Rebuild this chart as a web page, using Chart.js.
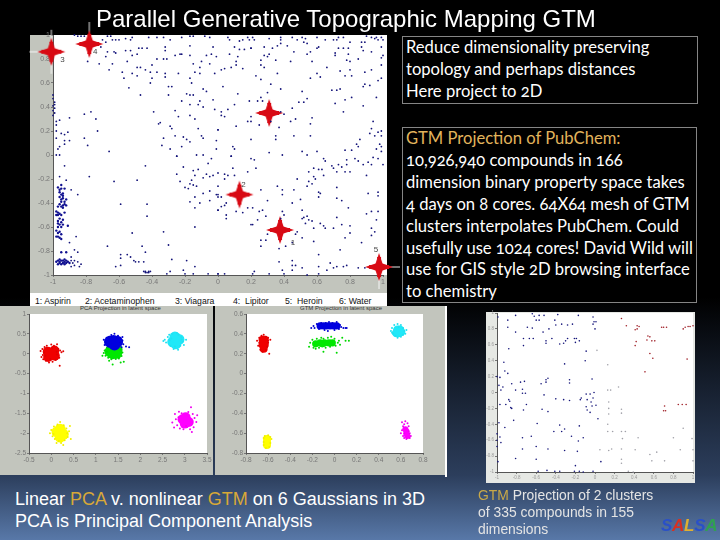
<!DOCTYPE html>
<html>
<head>
<meta charset="utf-8">
<title>Parallel Generative Topographic Mapping GTM</title>
<script src="https://cdn.jsdelivr.net/npm/chart.js@4/dist/chart.umd.min.js"></script>
<style>
  html, body { margin: 0; padding: 0; width: 720px; height: 540px; overflow: hidden; }
  body { position: relative; font-family: "Liberation Sans", Arial, sans-serif; color: #fff;
    background: linear-gradient(to bottom, #000 0%, #000 55%, #2c3e5c 88%, #5878a8 100%); }
  .abs { position: absolute; }
  canvas { position: absolute; filter: blur(0.4px); }
  .gold { color: #d8a838; }
  #title { left: 96px; top: 6px; font-size: 24px; line-height: 26px; white-space: nowrap; z-index: 5; }
  .panel { background: #c2c5bd; }
  .box { border: 1px solid #858585; background: #000; box-sizing: border-box; padding-left: 3px;
    font-family: Lato, sans-serif; font-size: 16.6px; line-height: 21.9px; white-space: pre;
    font-feature-settings: "onum"; }
  .box .gold { color: #e2b45c; }
  .strip { background: #fff; color: #111; font-size: 8.7px; z-index: 4; }
  .strip span { position: absolute; top: 3px; white-space: pre; }
  .tiny { font-size: 6px; color: #333; white-space: nowrap; }
  #caption { left: 15px; top: 488px; font-size: 18px; line-height: 22px; white-space: pre; }
  #caption2 { left: 478px; top: 487px; font-size: 13.9px; line-height: 17px; color: #e4e4e4; white-space: pre; }
  #caption2 .gold { color: #c8a848; }
  #salsa { left: 661px; top: 516px; font-size: 17px; font-weight: bold; font-style: italic; letter-spacing: -0.3px; filter: blur(0.5px); }
</style>
</head>
<body>
<div id="title" class="abs">Parallel Generative Topographic Mapping GTM</div>

<div class="abs panel" style="left:30px;top:35px;width:357px;height:258px"></div>
<div class="abs" style="left:383px;top:35px;width:4px;height:240px;background:#fff"></div>
<div class="abs panel" style="left:0;top:306px;width:213px;height:169px"></div>
<div class="abs panel" style="left:215px;top:306px;width:230px;height:169px"></div>
<div class="abs" style="left:445px;top:306px;width:2px;height:171px;background:#fff"></div>
<div class="abs tiny" style="left:80px;top:305px">PCA Projection in latent space</div>
<div class="abs tiny" style="left:300px;top:305px">GTM Projection in latent space</div>
<div class="abs" style="left:486px;top:312px;width:209px;height:171px;background:#e6e8e4"></div>

<canvas id="mainChart" width="400" height="280" style="left:0;top:20px;z-index:3"></canvas>
<canvas id="pcaChart" width="220" height="170" style="left:0;top:300px"></canvas>
<canvas id="gtmChart" width="220" height="170" style="left:216px;top:300px"></canvas>
<canvas id="smallChart" width="214" height="178" style="left:484px;top:308px"></canvas>

<div class="abs strip" style="left:30px;top:293px;width:357px;height:13px">
  <span style="left:5px">1: Aspirin</span>
  <span style="left:55px">2: Acetaminophen</span>
  <span style="left:145px">3: Viagara</span>
  <span style="left:203px">4:  Lipitor</span>
  <span style="left:255px">5:  Heroin</span>
  <span style="left:309px">6: Water</span>
</div>

<div class="abs box" style="left:402px;top:36px;width:296px;height:68px">Reduce dimensionality preserving
topology and perhaps distances
Here project to 2D</div>
<div class="abs box" style="left:402px;top:127px;width:295px;height:176px"><span class="gold">GTM Projection of PubChem:</span>
10,926,940 compounds in 166
dimension binary property space takes
4 days on 8 cores. 64X64 mesh of GTM
clusters interpolates PubChem. Could
usefully use 1024 cores! David Wild will
use for GIS style 2D browsing interface
to chemistry</div>

<div id="caption" class="abs">Linear <span class="gold">PCA</span> v. nonlinear <span class="gold">GTM</span> on 6 Gaussians in 3D
PCA is Principal Component Analysis</div>
<div id="caption2" class="abs"><span class="gold">GTM</span> Projection of 2 clusters
of 335 compounds in 155
dimensions</div>
<div id="salsa" class="abs"><span style="color:#2a50c8">S</span><span style="color:#d83020">A</span><span style="color:#e0b030">L</span><span style="color:#2a50c8">S</span><span style="color:#30a050">A</span></div>

<script>
// tick labels
const ticksUnit = [-1, -0.8, -0.6, -0.4, -0.2, 0, 0.2, 0.4, 0.6, 0.8, 1];
const pcaTicksX = [-0.5, 0, 0.5, 1, 1.5, 2, 2.5, 3, 3.5];
const pcaTicksY = [-2.5, -2, -1.5, -1, -0.5, 0, 0.5, 1];
const gtmTicksX = [-0.8, -0.6, -0.4, -0.2, 0, 0.2, 0.4, 0.6, 0.8];
const gtmTicksY = [-0.8, -0.6, -0.4, -0.2, 0, 0.2, 0.4, 0.6];

const pubchemNW = [[-.87,1],[-.85,.99],[-.83,.99],[-.81,.99],[-.67,.99],[-.65,.99],[-.7,.96],[-.68,.94],[-.64,.96],[-.62,.96],[-.6,.96],[-.56,.97],[-.52,.98],[-.53,.96],[-.42,.98],[-.37,.98],[-.33,.98],[-.29,.96],[-.22,.98],[-.17,.99],[-.15,.99],[-.08,.99],[-.05,.98],[-.03,.9],[-.71,.9],[-.67,.86],[-.63,.86],[-.62,.85],[-.56,.87],[-.53,.87],[-.48,.89],[-.46,.89],[-.43,.89],[-.32,.9],[-.32,.87],[-.17,.91],[-.52,.83],[-.49,.84],[-.68,.82],[-.79,.78],[-.72,.76],[-.64,.76],[-.55,.78],[-.37,.8],[-.33,.8],[-.31,.8],[-.26,.83],[-.23,.84],[-.22,.84],[-.17,.83],[-.07,.83],[-.04,.84],[-.01,.82],[-.05,.76],[-.15,.76],[-.1,.78],[-.11,.73],[-.14,.69],[-.11,.68],[-.02,.68],[-.66,.71],[-.58,.69],[-.57,.64],[-.52,.68],[-.49,.66],[-.49,.73],[-.47,.73],[-.44,.71],[-.4,.75],[-.41,.69],[-.37,.69],[-.32,.68],[-.32,.65],[-.24,.68],[-.17,.64],[-.16,.6],[-.4,.64],[-.41,.6],[-.54,.56],[-.47,.5],[-.3,.57],[-.28,.57],[-.3,.5],[-.19,.51],[-.17,.5],[-.09,.55],[-.07,.53],[-.15,.5],[-.03,.46],[-.22,.45],[-.17,.42],[-.11,.45],[-.12,.42],[-.09,.4],[-.02,.38],[-.39,.36],[-.26,.37],[-.24,.32],[-.17,.33],[-.14,.3],[-.35,.27],[-.36,.26],[-.29,.24],[-.28,.22],[-.26,.16],[-.33,.14],[-.21,.15],[-.19,.13],[-.17,.11],[-.1,.16],[-.09,.14],[-.01,.12],[0,.21],[-.12,.22],[-.34,.08],[-.29,.05],[-.22,.07],[-.01,.05],[-.25,-.01],[-.13,0],[-.09,0],[-.77,.36],[-.81,.34],[-.74,.3],[-.9,.31],[-.73,.2],[-.81,.14],[-.79,.08],[-.66,.03],[-.96,.29],[-.98,.28],[-.98,.25],[-.98,.2],[-.95,.18],[-.93,.17],[-.91,.19],[-.98,.14],[-.93,.12],[-.9,.12],[-.93,.09],[-.96,.07],[-.97,.05],[-.98,0],[-.96,0],[-1,.5],[-1,.47],[-.99,.44],[-1,.41],[-.99,.39],[-1,.37],[-.99,.35],[-1,.33],[-.99,.42]];
const pubchemNE = [[.06,.98],[.07,.96],[.13,.95],[.15,.96],[.18,.98],[.21,.98],[.19,.96],[.22,.96],[.31,.97],[.38,.98],[.38,.96],[.45,.98],[.51,.98],[.53,.97],[.48,.96],[.52,.94],[.54,.93],[.6,.98],[.65,.96],[.7,.96],[.72,.96],[.73,.98],[.76,.98],[.8,.94],[.9,.99],[.93,.98],[.96,.98],[.99,.98],[1,.96],[.89,.94],[.87,.94],[.95,.97],[.97,.96],[.1,.9],[.13,.88],[.16,.88],[.2,.89],[.2,.89],[.28,.9],[.33,.89],[.36,.91],[.38,.93],[.42,.91],[.46,.86],[.54,.84],[.56,.86],[.6,.89],[.61,.9],[.71,.85],[.71,.83],[.73,.89],[.76,.89],[.79,.89],[.79,.84],[.87,.9],[.88,.87],[.99,.9],[1,.83],[.99,.81],[.07,.84],[.31,.84],[.3,.82],[.26,.79],[.28,.83],[.12,.82],[.11,.78],[.35,.79],[.44,.78],[.57,.78],[.78,.79],[.8,.78],[.85,.8],[.93,.86],[.99,.75],[.02,.71],[.04,.72],[.08,.73],[.11,.75],[.15,.72],[.26,.75],[.28,.73],[.23,.66],[.36,.68],[.66,.73],[.74,.7],[.8,.71],[.89,.69],[.93,.71],[.77,.66],[.81,.66],[.6,.68],[.56,.64],[.62,.65],[.26,.63],[.32,.59],[.99,.64],[.97,.62],[.88,.57],[.89,.59],[.92,.58],[.03,.57],[.12,.51],[.38,.55],[.3,.52],[.69,.54],[.72,.54],[.74,.55],[.51,.53],[.26,.48],[.19,.45],[.24,.45],[.27,.45],[.1,.42],[.54,.47],[.52,.44],[.49,.44],[.45,.39],[.71,.43],[.77,.46],[.81,.48],[.96,.48],[.88,.41],[.76,.36],[.02,.36],[.06,.38],[.02,.33],[.04,.32],[.11,.24],[.18,.28],[.2,.32],[.2,.28],[.38,.36],[.4,.34],[.25,.25],[.32,.28],[.44,.28],[.47,.3],[.37,.23],[.57,.31],[.56,.26],[0,.21],[.2,.13],[.35,.13],[.35,.16],[.46,.16],[.56,.16],[.94,.28],[.93,.22],[.92,.18],[.95,.16],[.97,.19],[.99,.2],[.99,.16],[.98,.09],[.99,.07],[.96,.05],[.99,.03],[.86,.13],[.84,.09],[.81,.04],[.77,.04],[.85,.07],[.09,.07],[.1,.05],[.08,-.01],[.31,.02],[.39,0],[.51,.03],[.6,.03],[.54,0]];
const pubchemSW = [[-.93,-.09],[-.78,-.18],[-.63,-.22],[-.49,-.21],[-.44,-.09],[-.96,-.18],[-.92,-.21],[-.89,-.29],[-.85,-.33],[-.25,-.01],[-.21,-.1],[-.25,-.16],[-.23,-.22],[-.15,-.13],[-.12,-.12],[-.14,-.17],[-.16,-.21],[-.17,-.24],[-.2,-.27],[-.18,-.28],[-.15,-.25],[-.13,-.26],[-.09,-.19],[-.07,-.16],[-.05,-.18],[-.03,-.17],[-.06,-.07],[-.04,-.03],[-.09,-.32],[-.05,-.3],[-.01,-.33],[0,-.35],[-.05,-.38],[-.14,-.35],[-.17,-.39],[-.11,-.4],[-.14,-.44],[0,-.46],[-.43,-.41],[-.59,-.41],[-.43,-.51],[-.14,-.6],[-.52,-.65],[-.33,-.64],[-.3,-.75],[-.46,-.76],[-.67,-.76],[-.44,-.81],[-.28,-.87],[-.19,-.88],[-.14,-.93],[-.21,-.96],[-.29,-.97],[-.31,-.99],[-.59,-.83],[-.59,-.86],[-.62,-.93],[-.59,-.92],[-.55,-.83],[-.53,-.85],[-.51,-.88],[-.5,-.89],[-.48,-.89],[-.45,-.89],[-.2,-.99],[-.15,-.99],[-.06,-.99],[0,-.99],[-.45,-.97],[-.44,-.97],[-.42,-.97],[-.44,-.98],[-.43,-.98],[-.42,-.98],[-.41,-.97],[-.86,-.68],[-.9,-.73],[-.87,-.79],[-.85,-.81],[-.89,-.85],[-.87,-.88],[-.89,-.88],[-.88,-.9],[-.85,-.89],[-.83,-.91],[-.87,-.92],[-.89,-.93],[-.84,-.93]];
const pubchemSE = [[.08,-.01],[.2,-.03],[.22,-.04],[.23,-.11],[.09,-.11],[.18,-.14],[.06,-.17],[.1,-.17],[.04,-.16],[.04,-.2],[0,-.15],[0,-.26],[.26,-.29],[.36,-.26],[.39,-.29],[.39,-.33],[.46,-.29],[.48,-.2],[.55,-.14],[.58,-.11],[.61,-.12],[.63,-.12],[.69,-.09],[.7,-.11],[.64,-.03],[.65,-.05],[.78,-.04],[.83,-.03],[.85,-.05],[.91,-.06],[.94,-.02],[.97,-.03],[1,-.08],[.93,-.08],[.88,-.08],[.8,-.14],[.77,-.14],[.75,-.1],[.78,-.08],[.73,-.08],[.72,-.14],[.9,-.17],[.58,-.18],[.59,-.2],[.57,-.24],[.55,-.22],[.54,-.26],[.64,-.17],[.72,-.27],[.61,-.31],[.62,-.32],[.61,-.35],[.72,-.36],[.75,-.38],[.5,-.37],[.45,-.4],[.3,-.38],[.25,-.47],[.27,-.46],[.21,-.44],[.18,-.44],[.15,-.48],[.11,-.47],[.05,-.5],[.05,-.53],[0,-.46],[.02,-.43],[.04,-.42],[.05,-.4],[.02,-.35],[0,-.33],[.97,-.31],[.97,-.34],[.91,-.32],[.79,-.44],[.9,-.49],[.93,-.47],[.97,-.47],[.39,-.47],[.4,-.5],[.38,-.53],[.51,-.46],[.51,-.53],[.52,-.52],[.54,-.51],[.55,-.54],[.53,-.57],[.57,-.55],[.58,-.61],[.62,-.57],[.64,-.59],[.65,-.61],[.7,-.61],[.72,-.52],[.75,-.58],[.8,-.59],[.8,-.65],[.77,-.69],[.93,-.61],[.95,-.64],[.93,-.67],[.96,-.54],[.21,-.58],[.24,-.54],[.29,-.51],[.2,-.58],[.3,-.66],[.29,-.71],[.26,-.71],[.26,-.76],[.48,-.64],[.47,-.66],[.51,-.69],[.58,-.72],[.45,-.73],[.41,-.76],[.37,-.78],[.61,-.83],[.74,-.79],[.87,-.73],[.61,-.93],[.37,-.89],[.45,-.88],[.45,-.92],[.47,-.92],[.51,-.94],[.39,-.96],[.45,-.96],[.68,-.9],[.66,-.96],[.7,-.94],[.72,-.93],[.76,-.93],[.78,-.92],[.85,-.94],[.89,-.94],[.61,-.99],[.54,-1],[.31,-.99],[.22,-.97],[.21,-.99],[.04,-.99],[0,-.99],[.4,-.99]];
// the thick blue bands along the left edge and bottom left corner
const pubchemEdge = [[-.95,-.25],[-.95,-.28],[-.93,-.28],[-.96,-.31],[-.94,-.32],[-.96,-.35],[-.94,-.36],[-.95,-.39],[-.93,-.39],[-.97,-.43],[-.94,-.42],[-.92,-.42],[-.97,-.48],[-.96,-.49],[-.98,-.5],[-.93,-.48],[-.97,-.55],[-.95,-.56],[-.96,-.58],[-.97,-.6],[-.91,-.59],[-.96,-.64],[-.97,-.68],[-.96,-.69],[-.97,-.65],[-.95,-.81],[-.92,-.81],[-.97,-.88],[-.96,-.89],[-.94,-.88],[-.93,-.89],[-.92,-.9],[-.97,-.91],[-.95,-.91],[-.97,-.27],[-.96,-.29],[-.95,-.33],[-.94,-.34],[-.95,-.37],[-.92,-.37],[-.96,-.41],[-.95,-.43],[-.94,-.44],[-.93,-.41],[-.98,-.47],[-.97,-.5],[-.95,-.5],[-.96,-.53],[-.94,-.54],[-.97,-.57],[-.95,-.6],[-.94,-.58],[-.98,-.63],[-.95,-.66],[-.98,-.68],[-.95,-.7],[-.96,-.87],[-.95,-.88],[-.93,-.87],[-.92,-.88],[-.96,-.9],[-.94,-.9],[-.93,-.91],[-.91,-.89],[-.98,-.89],[-.9,-.9]];

// the six drug positions and their numbers
const drugPoints = [[-1.01,.86],[-.78,.925],[.31,.35],[.13,-.33],[.376,-.625],[.976,-.933]];
const drugNames = ["3", "4", "", "2", "1", "5"];

// PCA panel: each Gaussian as a dense core and a thin spray
const pcaRedCore = [[0,0],[-.08,.05],[.08,-.05],[-.07,-.08],[.07,.08]];
const pcaRedSpray = [[-.24,.07],[-.22,-.08],[-.2,.12],[-.18,-.14],[-.15,.17],[-.12,-.18],[-.1,.2],[-.05,-.22],[0,.23],[.03,-.2],[.06,.2],[.1,-.16],[.13,.24],[.16,.12],[.18,-.1],[.2,.08],[.23,.04],[.27,.06],[.19,-.3],[-.16,.03],[-.13,-.05],[.13,-.02],[.12,.05],[-.02,-.13],[.02,.14],[-.19,-.03]];
const pcaBlueCore = [[1.4,.32],[1.32,.3],[1.48,.3],[1.42,.23]];
const pcaBlueSpray = [[1.22,.28],[1.25,.4],[1.3,.43],[1.35,.47],[1.42,.5],[1.5,.45],[1.55,.4],[1.6,.33],[1.62,.24],[1.58,.16],[1.75,.16],[1.68,.18],[1.2,.22],[1.28,.18],[1.36,.42],[1.47,.4],[1.55,.28],[1.18,.35],[1.6,.42],[1.3,.37]];
const pcaGreenCore = [[1.4,.08],[1.32,.05],[1.48,.1],[1.38,0],[1.47,.01]];
const pcaGreenSpray = [[1.2,.08],[1.18,.02],[1.22,-.05],[1.25,.15],[1.28,-.1],[1.32,.2],[1.35,-.14],[1.42,.22],[1.45,-.13],[1.52,.18],[1.56,.1],[1.6,.03],[1.58,-.06],[1.52,-.12],[1.63,-.2],[1.38,-.27],[1.3,-.18],[1.15,-.05],[1.56,-.22],[1.25,.05]];
const pcaCyanCore = [[2.8,.33],[2.73,.3],[2.87,.36],[2.8,.25],[2.78,.42]];
const pcaCyanSpray = [[2.55,.35],[2.58,.28],[2.62,.42],[2.65,.48],[2.68,.2],[2.72,.5],[2.78,.18],[2.82,.52],[2.86,.48],[2.92,.42],[2.95,.3],[2.98,.22],[3.03,.35],[2.9,.2],[2.7,.38],[2.52,.32],[2.85,.1],[2.66,.34],[2.93,.36],[2.75,.12]];
const pcaYellowCore = [[.2,-2],[.13,-1.97],[.27,-2.03],[.2,-2.1],[.2,-1.9]];
const pcaYellowSpray = [[-.03,-2],[0,-1.92],[.03,-2.08],[.06,-1.83],[.08,-2.15],[.14,-1.78],[.2,-1.72],[.17,-2.2],[.22,-2.25],[.28,-1.8],[.3,-2.18],[.34,-1.88],[.37,-2.1],[.4,-1.95],[.42,-1.82],[.44,-2.15],[.36,-2],[.05,-2.02],[.27,-2.3],[.12,-2.25]];
const pcaMagentaCore = [[3.02,-1.68],[2.95,-1.65],[3.09,-1.72],[3.02,-1.6],[3,-1.76]];
const pcaMagentaSpray = [[2.72,-1.73],[2.78,-1.52],[2.8,-1.65],[2.83,-1.8],[2.87,-1.46],[2.89,-1.88],[2.93,-1.5],[2.97,-1.9],[3.03,-1.82],[3.08,-1.47],[3.14,-1.35],[3.18,-1.52],[3.22,-1.62],[3.26,-1.72],[3.2,-1.85],[3.12,-1.9],[3.16,-1.97],[2.86,-1.6],[3.28,-1.55],[2.76,-1.86]];

// GTM panel
const gtmRedCore = [[-.65,.34],[-.63,.34],[-.65,.29],[-.63,.29],[-.64,.25]];
const gtmRedSpray = [[-.7,.33],[-.69,.28],[-.68,.36],[-.67,.24],[-.66,.38],[-.64,.39],[-.62,.37],[-.6,.36],[-.58,.34],[-.6,.31],[-.61,.27],[-.62,.24],[-.65,.22],[-.59,.2],[-.6,.33],[-.68,.31]];
const gtmBlueCore = [[-.13,.48],[-.1,.48],[-.07,.48],[-.04,.48],[-.01,.48],[.02,.48]];
const gtmBlueSpray = [[-.21,.46],[-.19,.48],[-.18,.46],[-.16,.5],[-.14,.45],[-.12,.51],[-.09,.44],[-.06,.43],[-.05,.52],[-.02,.51],[0,.44],[.02,.52],[.04,.45],[.05,.49],[.06,.47],[.08,.46],[.1,.46],[.11,.46],[-.08,.51]];
const gtmGreenCore = [[-.17,.3],[-.13,.31],[-.09,.31],[-.05,.31],[-.02,.31],[-.11,.3]];
const gtmGreenSpray = [[-.23,.27],[-.22,.31],[-.2,.34],[-.19,.26],[-.16,.35],[-.14,.26],[-.12,.36],[-.1,.35],[-.08,.26],[-.06,.36],[-.04,.27],[-.03,.37],[0,.35],[.01,.28],[.03,.31],[.04,.33],[.07,.36],[.1,.33],[.13,.33],[-.1,.22],[.02,.21],[-.17,.25],[.05,.29]];
const gtmCyanCore = [[.57,.44],[.59,.44],[.58,.41],[.56,.41],[.6,.42]];
const gtmCyanSpray = [[.51,.43],[.52,.46],[.53,.4],[.54,.49],[.55,.38],[.57,.5],[.6,.49],[.62,.46],[.63,.43],[.62,.39],[.6,.37],[.57,.36],[.65,.44],[.52,.41],[.58,.47],[.64,.4]];
const gtmMagentaCore = [[.65,-.61],[.65,-.58],[.66,-.63],[.64,-.56]];
const gtmMagentaSpray = [[.61,-.49],[.64,-.48],[.66,-.5],[.62,-.53],[.63,-.51],[.67,-.53],[.61,-.57],[.6,-.6],[.63,-.6],[.67,-.58],[.68,-.6],[.69,-.63],[.62,-.63],[.63,-.65],[.68,-.65],[.65,-.66]];
const gtmYellowCore = [[-.61,-.66],[-.61,-.69],[-.61,-.72]];
const gtmYellowSpray = [[-.64,-.65],[-.63,-.63],[-.6,-.62],[-.58,-.64],[-.57,-.66],[-.58,-.7],[-.59,-.74],[-.62,-.75],[-.64,-.72],[-.64,-.69]];

// 335 compound panel: two clusters plus the faint ones
const clusterBlue = [[-.99,.95],[-.89,.91],[-.81,.97],[-.64,.99],[-.62,.96],[-.57,.97],[-.52,.97],[-.6,.91],[-.57,.91],[-.41,.91],[-.4,.85],[-.34,.86],[-.28,.85],[-.23,.86],[-.17,.97],[-.38,.98],[-.02,.95],[-.01,.89],[.01,.89],[-.02,.86],[0,.8],[-.89,.82],[-.81,.76],[-.69,.82],[-.64,.81],[-.47,.8],[-.53,.76],[-.73,.68],[-.67,.68],[-.63,.68],[-.5,.62],[-.5,.65],[-.44,.68],[-.36,.61],[-.32,.62],[-.28,.68],[-.3,.65],[-.21,.68],[-.19,.68],[-.16,.65],[-.2,.63],[-.88,.55],[-.73,.59],[-.09,.52],[-.1,.4],[-.31,.36],[-.93,.38],[-.92,.27],[-.89,.24],[-1,.2],[-.97,.19],[-.98,.09],[-.94,.07],[-.96,.03],[-.85,.11],[-.76,.13],[-.72,.14],[-.55,.11],[-.5,.16],[-.48,.18],[-.5,.13],[-.26,.16],[-.26,.12],[-.03,.17],[-.88,-.09],[-.87,-.11],[-.97,-.15],[-.91,-.15],[-.86,-.19],[-.85,-.2],[-.74,.04],[-.81,.03],[-.74,-.01],[-.71,-.01],[-.52,-.03],[-.4,-.08],[-.32,-.09],[-.26,-.1],[-.15,-.09],[-.14,-.07],[-.09,-.02],[-.05,-.02],[-.01,0],[-.02,-.07],[-.08,-.09],[-.04,-.12],[-.03,-.17],[.01,-.16],[-.09,-.18],[-.08,-.22],[-.05,-.25],[-.54,-.21],[-.48,-.24],[-.7,-.15],[-.73,-.22],[.03,-.33],[-.83,-.35],[-.59,-.39],[-.36,-.41],[-.42,-.49],[-.34,-.49],[-.31,-.46],[-.16,-.42],[-.24,-.55],[-.17,-.61],[-.12,-.57],[-.65,-.55],[-.74,-.57],[-1,-.52],[-1,-.6],[-.96,-.63],[-.92,-.44],[-.98,-.38],[-.97,-.56],[-.74,-.71],[-.6,-.68],[-.48,-.71],[-.31,-.73],[-.18,-.74],[-.81,-.83],[-.6,-.84],[-.99,-.87],[-1,-.68],[.06,-.87],[-.2,-.92],[-.58,-.99],[-.49,-.98],[-.41,-.99],[-.36,-.99],[-.21,-.99],[-.16,-.99],[-.12,-1],[-.02,-.99]];
const clusterFaint = [[.13,.35],[.02,.53],[.14,-.12],[.13,.03],[.16,.03],[.24,.07],[.14,-.2],[.14,-.27],[.13,-.4],[.13,-.49],[.18,-.49],[.27,-.21],[.27,-.26],[.27,-.49],[.28,-.58],[.31,-.49],[.05,-.72],[.14,-.73],[.17,-.71],[.27,-.71],[.41,-.72],[.27,-.84],[.27,-.89],[.39,-1],[.34,-.99],[.44,-.57],[.56,-.78],[.58,-.86],[.63,-.75],[.8,-.57],[.87,-.72],[.99,-.58],[1,-.72],[1,-.86],[.9,-.45],[.71,-.86]];
const clusterRed = [[.27,.93],[.32,.84],[.43,.84],[.43,.8],[.45,.83],[.41,.79],[.68,.82],[.7,.82],[.73,.82],[.9,.8],[.92,.82],[.95,.83],[.97,.83],[1,.84],[.54,.71],[.56,.7],[.53,.66],[.58,.65],[.61,.65],[.42,.64],[.41,.59],[.56,.49],[.59,.43],[.51,.26],[.94,.42],[.71,-.17],[.7,-.23],[.72,-.23],[.85,-.15],[.89,-.15],[.93,-.15]];

function toXY(pairs) {
  return pairs.map(function (p) { return { x: p[0], y: p[1] }; });
}

// 4 pointed red star with white whiskers, used as a point style
function makeStar() {
  const c = document.createElement("canvas");
  c.width = 46;
  c.height = 46;
  const g = c.getContext("2d");
  const m = 23;
  g.strokeStyle = "rgba(255,255,255,0.9)";
  g.lineWidth = 1;
  g.beginPath();
  g.moveTo(1, m); g.lineTo(45, m);
  g.moveTo(m, 1); g.lineTo(m, 45);
  g.stroke();
  g.fillStyle = "#d80a14";
  g.beginPath();
  const arm = 14, waist = 3.5;
  g.moveTo(m, m - arm); g.lineTo(m + waist, m - waist);
  g.lineTo(m + arm, m); g.lineTo(m + waist, m + waist);
  g.lineTo(m, m + arm); g.lineTo(m - waist, m + waist);
  g.lineTo(m - arm, m); g.lineTo(m - waist, m - waist);
  g.closePath();
  g.fill();
  g.fillRect(m - 2, m - 10, 4, 20);
  g.fillRect(m - 10, m - 2, 20, 4);
  g.beginPath();
  g.arc(m, m, 4.5, 0, Math.PI * 2);
  g.fill();
  return c;
}

const plotBackground = {
  id: "plotBackground",
  beforeDraw: function (chart) {
    const a = chart.chartArea;
    chart.ctx.fillStyle = "#fff";
    chart.ctx.fillRect(a.left, a.top, a.right - a.left, a.bottom - a.top);
  },
};

const drugLabels = {
  id: "drugLabels",
  afterDatasetsDraw: function (chart) {
    const meta = chart.getDatasetMeta(chart.data.datasets.length - 1);
    const offsets = [[11, 8], [6, 8], [0, 0], [4, -10], [13, 13], [-3, -17]];
    chart.ctx.save();
    chart.ctx.fillStyle = "#444";
    chart.ctx.font = "8px 'Liberation Sans'";
    chart.ctx.textAlign = "center";
    chart.ctx.textBaseline = "middle";
    meta.data.forEach(function (pt, i) {
      chart.ctx.fillText(drugNames[i], pt.x + offsets[i][0], pt.y + offsets[i][1]);
    });
    chart.ctx.restore();
  },
};

function scaleOptions(ticks, axisSize, tickFont, tickColor, isX) {
  return {
    type: "linear",
    min: ticks[0],
    max: ticks[ticks.length - 1],
    afterBuildTicks: function (axis) {
      axis.ticks = ticks.map(function (v) { return { value: v }; });
    },
    afterFit: function (axis) {
      if (isX) axis.height = axisSize; else axis.width = axisSize;
    },
    border: { display: true, color: "#555", width: 1 },
    grid: { drawOnChartArea: false, color: "#777", tickLength: 2 },
    ticks: {
      color: tickColor,
      font: { family: "'Liberation Sans'", size: tickFont },
      padding: 1,
      autoSkip: false,
      maxRotation: 0,
      callback: function (v) { return String(v); },
    },
  };
}

function scatterChart(id, datasets, xTicks, yTicks, box, tickFont, tickColor, plugins) {
  return new Chart(document.getElementById(id), {
    type: "scatter",
    data: { datasets: datasets },
    options: {
      responsive: false,
      animation: false,
      layout: { padding: { left: 0, top: box.top, right: box.right, bottom: 0 } },
      plugins: { legend: { display: false }, tooltip: { enabled: false } },
      scales: {
        x: scaleOptions(xTicks, box.bottom, tickFont, tickColor, true),
        y: scaleOptions(yTicks, box.left, tickFont, tickColor, false),
      },
    },
    plugins: [plotBackground].concat(plugins || []),
  });
}

function dots(pairs, color, radius) {
  return { data: toXY(pairs), backgroundColor: color, borderWidth: 0, pointRadius: radius, clip: false };
}

scatterChart("mainChart", [
  dots(pubchemNW, "#14147a", 0.9),
  dots(pubchemNE, "#14147a", 0.9),
  dots(pubchemSW, "#14147a", 0.9),
  dots(pubchemSE, "#14147a", 0.9),
  dots(pubchemEdge, "#101090", 1.2),
  { data: toXY(drugPoints), pointStyle: makeStar(), clip: false },
], ticksUnit, ticksUnit, { left: 53, top: 15, right: 17, bottom: 25 }, 7, "#777", [drugLabels]);

scatterChart("pcaChart", [
  dots(pcaRedSpray, "#e00000", 1), dots(pcaRedCore, "#f00000", 5),
  dots(pcaBlueSpray, "#0000d0", 1), dots(pcaBlueCore, "#0000e0", 6),
  dots(pcaGreenSpray, "#00d800", 1), dots(pcaGreenCore, "#00e800", 5.5),
  dots(pcaCyanSpray, "#20e0f0", 1), dots(pcaCyanCore, "#20e8f8", 5.5),
  dots(pcaYellowSpray, "#f0f000", 1), dots(pcaYellowCore, "#ffff00", 5.5),
  dots(pcaMagentaSpray, "#f000f0", 1), dots(pcaMagentaCore, "#ff00ff", 5),
], pcaTicksX, pcaTicksY, { left: 29, top: 14, right: 13, bottom: 17 }, 6.5, "#777");

scatterChart("gtmChart", [
  dots(gtmRedSpray, "#e00000", 1), dots(gtmRedCore, "#f00000", 4),
  dots(gtmBlueSpray, "#0000d0", 1), dots(gtmBlueCore, "#0000e0", 3.6),
  dots(gtmGreenSpray, "#00d800", 1), dots(gtmGreenCore, "#00e800", 3.6),
  dots(gtmCyanSpray, "#20e0f0", 1), dots(gtmCyanCore, "#20e8f8", 4.5),
  dots(gtmMagentaSpray, "#f000f0", 1), dots(gtmMagentaCore, "#ff00ff", 3),
  dots(gtmYellowSpray, "#f0f000", 1), dots(gtmYellowCore, "#ffff00", 4),
], gtmTicksX, gtmTicksY, { left: 30, top: 14, right: 13, bottom: 17 }, 6.5, "#777");

scatterChart("smallChart", [
  dots(clusterFaint, "#a0a0a8", 0.8),
  dots(clusterBlue, "#15157a", 0.8),
  dots(clusterRed, "#a02028", 0.8),
], ticksUnit, ticksUnit, { left: 13, top: 5, right: 5, bottom: 14 }, 4.5, "#999");
</script>
</body>
</html>
